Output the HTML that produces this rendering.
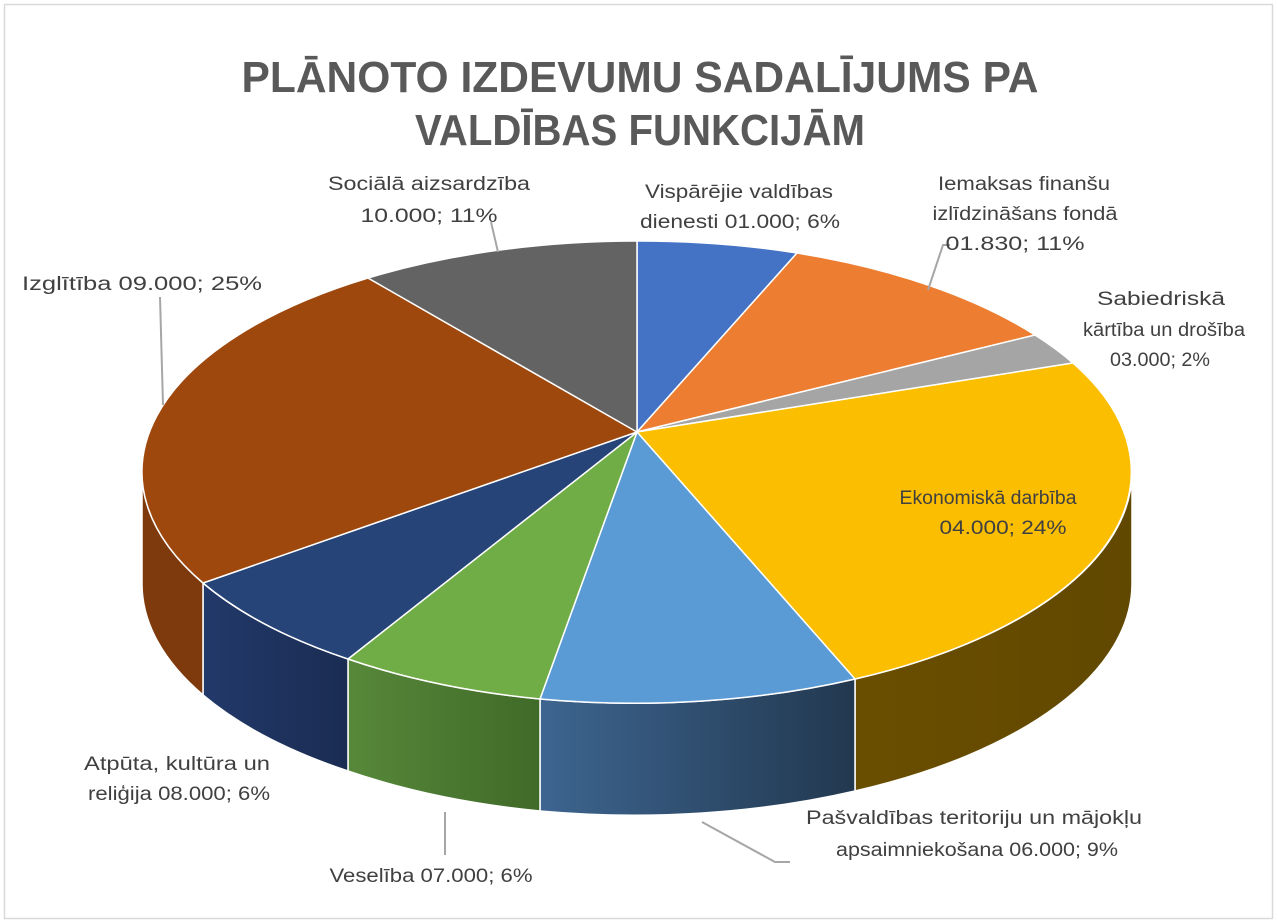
<!DOCTYPE html>
<html><head><meta charset="utf-8"><style>
html,body{margin:0;padding:0;background:#fff}
svg{display:block}
text{font-family:"Liberation Sans",sans-serif}
</style></head><body>
<svg width="1278" height="924" viewBox="0 0 1278 924" xmlns="http://www.w3.org/2000/svg">
<defs>
<linearGradient id="lb" x1="0" x2="1" y1="0" y2="0"><stop offset="0" stop-color="#3d6590"/><stop offset="1" stop-color="#22384f"/></linearGradient>
<linearGradient id="gr" x1="0" x2="1"><stop offset="0" stop-color="#57883a"/><stop offset="1" stop-color="#406a28"/></linearGradient>
<linearGradient id="nv" x1="0" x2="1"><stop offset="0" stop-color="#22396a"/><stop offset="1" stop-color="#1a2c52"/></linearGradient>
<linearGradient id="ye" x1="0" x2="1"><stop offset="0" stop-color="#6a4e00"/><stop offset="1" stop-color="#614800"/></linearGradient>
</defs>
<rect x="4.5" y="4.5" width="1268" height="914" fill="#fff" stroke="#d9d9d9" stroke-width="1.5"/>
<text x="640" y="92" text-anchor="middle" font-size="44" font-weight="bold" fill="#595959" textLength="797" lengthAdjust="spacingAndGlyphs">PLĀNOTO IZDEVUMU SADALĪJUMS  PA</text>
<text x="640" y="145" text-anchor="middle" font-size="44" font-weight="bold" fill="#595959" textLength="450" lengthAdjust="spacingAndGlyphs">VALDĪBAS FUNKCIJĀM</text>

<g stroke="#fff" stroke-width="1.5">
<path d="M1132,472 A495,231 0 0 1 855,679 L855,791 A495,231 0 0 0 1132,584 Z" fill="url(#ye)"/>
<path d="M855,679 A495,231 0 0 1 540,699 L540,811 A495,231 0 0 0 855,791 Z" fill="url(#lb)"/>
<path d="M540,699 A495,231 0 0 1 348,659 L348,771 A495,231 0 0 0 540,811 Z" fill="url(#gr)"/>
<path d="M348,659 A495,231 0 0 1 203,583 L203,695 A495,231 0 0 0 348,771 Z" fill="url(#nv)"/>
<path d="M203,583 A495,231 0 0 1 142,472 L142,584 A495,231 0 0 0 203,695 Z" fill="#7e3a0c"/>
<path d="M637,432 L637,241 A495,231 0 0 1 797,253 Z" fill="#4472C4"/>
<path d="M637,432 L797,253 A495,231 0 0 1 1035,335 Z" fill="#ED7D31"/>
<path d="M637,432 L1035,335 A495,231 0 0 1 1073,363 Z" fill="#A5A5A5"/>
<path d="M637,432 L1073,363 A495,231 0 0 1 855,679 Z" fill="#FBBE00"/>
<path d="M637,432 L855,679 A495,231 0 0 1 540,699 Z" fill="#5B9BD5"/>
<path d="M637,432 L540,699 A495,231 0 0 1 348,659 Z" fill="#70AD47"/>
<path d="M637,432 L348,659 A495,231 0 0 1 203,583 Z" fill="#264478"/>
<path d="M637,432 L203,583 A495,231 0 0 1 368,278 Z" fill="#9E480E"/>
<path d="M637,432 L368,278 A495,231 0 0 1 637,241 Z" fill="#636363"/>
</g>

<g stroke="#a6a6a6" stroke-width="2" fill="none">
<path d="M498,252 L491,222"/>
<path d="M928,290 L943,245 L950,245"/>
<path d="M163,405 L160,297"/>
<path d="M445,812 L445,855"/>
<path d="M702,822 L775,862 L790,862"/>
</g>

<g font-size="19" fill="#404040" text-anchor="middle" lengthAdjust="spacingAndGlyphs">
<text x="429" y="190" textLength="202" lengthAdjust="spacingAndGlyphs">Sociālā aizsardzība</text>
<text x="429" y="222" textLength="137" lengthAdjust="spacingAndGlyphs">10.000; 11%</text>
<text x="739" y="198" textLength="188" lengthAdjust="spacingAndGlyphs">Vispārējie valdības</text>
<text x="740" y="228" textLength="200" lengthAdjust="spacingAndGlyphs">dienesti 01.000; 6%</text>
<text x="1024" y="190" textLength="172" lengthAdjust="spacingAndGlyphs">Iemaksas finanšu</text>
<text x="1025" y="220" textLength="185" lengthAdjust="spacingAndGlyphs">izlīdzināšans fondā</text>
<text x="1015" y="250" textLength="139" lengthAdjust="spacingAndGlyphs">01.830; 11%</text>
<text x="1161" y="305" textLength="128" lengthAdjust="spacingAndGlyphs">Sabiedriskā</text>
<text x="1164" y="336" textLength="162" lengthAdjust="spacingAndGlyphs">kārtība un drošība</text>
<text x="1160" y="366" textLength="100" lengthAdjust="spacingAndGlyphs">03.000; 2%</text>
<text x="142" y="290" textLength="240" lengthAdjust="spacingAndGlyphs">Izglītība 09.000; 25%</text>
<text x="988" y="504" textLength="177" lengthAdjust="spacingAndGlyphs">Ekonomiskā darbība</text>
<text x="1003" y="534" textLength="127" lengthAdjust="spacingAndGlyphs">04.000; 24%</text>
<text x="177" y="770" textLength="186" lengthAdjust="spacingAndGlyphs">Atpūta, kultūra un</text>
<text x="179" y="800" textLength="182" lengthAdjust="spacingAndGlyphs">reliģija 08.000; 6%</text>
<text x="431" y="882" textLength="203" lengthAdjust="spacingAndGlyphs">Veselība 07.000; 6%</text>
<text x="974" y="824" textLength="336" lengthAdjust="spacingAndGlyphs">Pašvaldības teritoriju un mājokļu</text>
<text x="977" y="856" textLength="282" lengthAdjust="spacingAndGlyphs">apsaimniekošana 06.000; 9%</text>
</g>
</svg>
</body></html>
